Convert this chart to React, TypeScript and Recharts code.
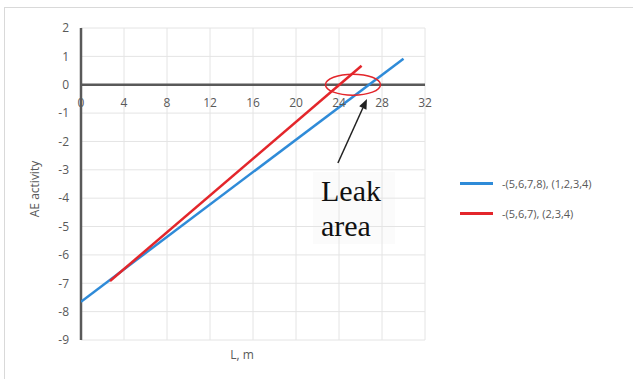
import React from 'react';
import {
  LineChart,
  Line,
  XAxis,
  YAxis,
  CartesianGrid,
  ReferenceLine,
  ReferenceDot,
  Label,
} from 'recharts';

// series end points (L in m, AE activity)
const blueSeries = [
  { x: 0, y: -7.65 },
  { x: 30, y: 0.92 },
];
const redSeries = [
  { x: 2.7, y: -6.92 },
  { x: 26.1, y: 0.67 },
];
const xTicks = [0, 4, 8, 12, 16, 20, 24, 28, 32];
const yTicks = [2, 1, 0, -1, -2, -3, -4, -5, -6, -7, -8, -9];
const blueName = '-(5,6,7,8), (1,2,3,4)';
const redName = '-(5,6,7), (2,3,4)';
const leakCenter = { x: 25.3, y: 0 };
const arrowFrom = { x: 23.9, y: -2.76 };
const arrowTo = { x: 26.6, y: -0.5 };

const W = 633;
const H = 379;
const TOP = 28;
const BOTTOM = 39;
const PLOT_H = H - TOP - BOTTOM;
// pixel distance from plot bottom up to the y = 0 line
const zeroShift = (PLOT_H * (0 - yTicks[yTicks.length - 1])) / (yTicks[0] - yTicks[yTicks.length - 1]);

const gray = '#595959';
const blue = '#2f8bd8';
const red = '#e3262b';
const font = '"Open Sans", sans-serif';

// x tick labels sit just under the y = 0 line, not at the plot bottom
const XTick = (props: any) => {
  const { x, y, payload } = props;
  return (
    <text
      x={x}
      y={y - 8 - zeroShift + 19}
      textAnchor="middle"
      dominantBaseline="middle"
      fill={gray}
      fontSize={12}
      fontFamily={font}
    >
      {payload.value}
    </text>
  );
};

const Arrow = (props: any) => {
  const { x1, y1, x2, y2 } = props;
  if (x1 == null) return null;
  const ang = Math.atan2(y2 - y1, x2 - x1);
  const len = 10;
  const wid = 4;
  const bx = x2 - len * Math.cos(ang);
  const by = y2 - len * Math.sin(ang);
  const px = -Math.sin(ang) * wid;
  const py = Math.cos(ang) * wid;
  return (
    <g>
      <line x1={x1} y1={y1} x2={bx} y2={by} stroke="#222" strokeWidth={1.5} />
      <polygon points={`${x2},${y2} ${bx + px},${by + py} ${bx - px},${by - py}`} fill="#222" />
    </g>
  );
};

export default function App() {
  return (
    <div style={{ position: 'absolute', left: 0, top: 0, width: W, height: H, background: '#fff', overflow: 'hidden' }}>
      <div
        style={{
          position: 'absolute',
          left: 4,
          top: 7,
          width: W,
          height: H,
          borderTop: '1px solid #d9d9d9',
          borderLeft: '1px solid #d9d9d9',
        }}
      />
      <div
        style={{
          position: 'absolute',
          left: 313,
          top: 172,
          width: 82,
          height: 72,
          background: '#fbfbfb',
        }}
      />
      <LineChart
        width={W}
        height={H}
        margin={{ top: TOP, right: 208, bottom: BOTTOM - 20, left: 21 }}
        style={{ position: 'absolute', left: 0, top: 0 }}
      >
        <CartesianGrid stroke="#e4e4e4" strokeWidth={1} />
        <XAxis
          type="number"
          dataKey="x"
          domain={[0, 32]}
          ticks={xTicks}
          axisLine={false}
          tickLine={false}
          tick={<XTick />}
          height={20}
          allowDataOverflow
        >
          <Label value="L, m" position="insideBottom" offset={1} dx={-11} fill={gray} fontSize={12} fontFamily={font} />
        </XAxis>
        <YAxis
          type="number"
          dataKey="y"
          domain={[-9, 2]}
          ticks={yTicks}
          axisLine={false}
          tickLine={false}
          width={60}
          tick={{ fill: gray, fontSize: 12, fontFamily: font, dx: -4 }}
          allowDataOverflow
        >
          <Label value="AE activity" angle={-90} position="insideLeft" offset={14} dy={5} fill={gray} fontSize={12} fontFamily={font} style={{ textAnchor: 'middle' }} />
        </YAxis>
        <ReferenceLine y={0} stroke={gray} strokeWidth={2.5} />
        <ReferenceLine x={0} stroke={gray} strokeWidth={2.5} />
        <Line data={blueSeries} dataKey="y" name={blueName} stroke={blue} strokeWidth={2.5} dot={false} isAnimationActive={false} />
        <Line data={redSeries} dataKey="y" name={redName} stroke={red} strokeWidth={2.5} dot={false} isAnimationActive={false} />
        <ReferenceDot
          x={leakCenter.x}
          y={leakCenter.y}
          shape={(p: any) => (
            <ellipse cx={p.cx} cy={p.cy} rx={27.5} ry={10.5} fill="none" stroke={red} strokeWidth={1.5} />
          )}
        />
        <ReferenceLine segment={[arrowFrom, arrowTo]} shape={(p: any) => <Arrow {...p} />} />
      </LineChart>
      <div style={{ position: 'absolute', left: 460, top: 168, fontFamily: font, fontSize: 11, color: gray }}>
        {[
          { name: blueName, color: blue },
          { name: redName, color: red },
        ].map((it) => (
          <div key={it.name} style={{ display: 'flex', alignItems: 'center', height: 30 }}>
            <div style={{ width: 33, height: 3, background: it.color, marginRight: 9 }} />
            <span>{it.name}</span>
          </div>
        ))}
      </div>
      <div
        style={{
          position: 'absolute',
          left: 321,
          top: 173,
          fontFamily: '"Liberation Serif", "DejaVu Serif", serif',
          fontSize: 30,
          lineHeight: '35px',
          color: '#111',
        }}
      >
        Leak
        <br />
        area
      </div>
    </div>
  );
}
